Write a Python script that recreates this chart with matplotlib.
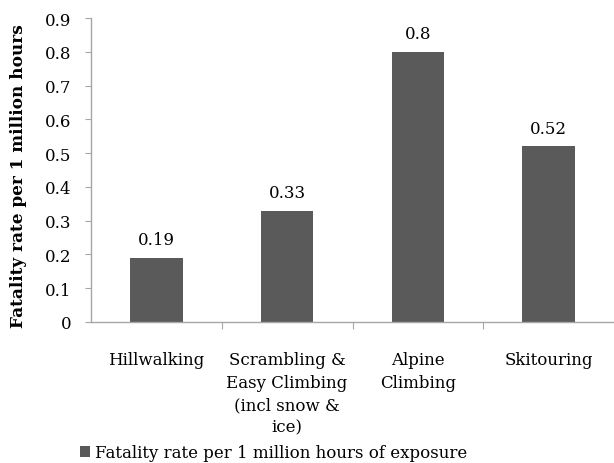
import matplotlib
matplotlib.use("Agg")
import matplotlib.pyplot as plt

categories = ["Hillwalking", "Scrambling &\nEasy Climbing\n(incl snow &\nice)", "Alpine\nClimbing", "Skitouring"]
values = [0.19, 0.33, 0.8, 0.52]
value_labels = ["0.19", "0.33", "0.8", "0.52"]
yticks = [0, 0.1, 0.2, 0.3, 0.4, 0.5, 0.6, 0.7, 0.8, 0.9]
ytick_labels = ["0", "0.1", "0.2", "0.3", "0.4", "0.5", "0.6", "0.7", "0.8", "0.9"]
series_name = "Fatality rate per 1 million hours of exposure"
ylabel = "Fatality rate per 1 million hours"

plt.rcParams['font.family'] = ['DejaVu Serif']

fig = plt.figure(figsize=(6.14, 4.64), dpi=100)
ax = fig.add_axes([91/614, 1-323/464, (614-91)/614, (323-19)/464])

bar_color = "#5a5a5a"
spine_color = "#a6a6a6"
x = list(range(len(categories)))
bars = ax.bar(x, values, width=0.40, color=bar_color, label=series_name)
ax.bar_label(bars, labels=value_labels, padding=7, fontsize=12)

ax.set_xlim(-0.5, len(categories) - 0.5)
ax.set_ylim(0, 0.9)
ax.set_yticks(yticks)
ax.set_yticklabels(ytick_labels, fontsize=12)

ax.set_xticks([0.5, 1.5, 2.5])
ax.set_xticklabels([])
ax.set_xticks(x, minor=True)
ax.set_xticklabels(categories, minor=True, fontsize=12)
for lab in ax.get_xticklabels(minor=True):
    lab.set_linespacing(1.42)
ax.tick_params(axis='x', which='major', length=5, color=spine_color, direction='out')
ax.tick_params(axis='x', which='minor', length=0, pad=21)
ax.tick_params(axis='y', length=4, color=spine_color, pad=10)

for s in ['top', 'right']:
    ax.spines[s].set_visible(False)
for s in ['left', 'bottom']:
    ax.spines[s].set_color(spine_color)
    ax.spines[s].set_linewidth(1.0)

yl = ax.set_ylabel(ylabel, fontsize=11, fontweight='bold')
ax.yaxis.set_label_coords(-0.122, 0.482)
# fit the label length to the reference (~303 px)
fig.canvas.draw()
h = yl.get_window_extent().height
yl.set_fontsize(11 * 303.0 / h)

fig.legend(handles=[bars], labels=[series_name], loc='lower left',
           bbox_to_anchor=(78/614, 0.0), frameon=False, fontsize=12,
           handlelength=0.6, handleheight=0.6, handletextpad=0.3,
           borderpad=0.1, borderaxespad=0)

fig.savefig("out.png", dpi=100)
